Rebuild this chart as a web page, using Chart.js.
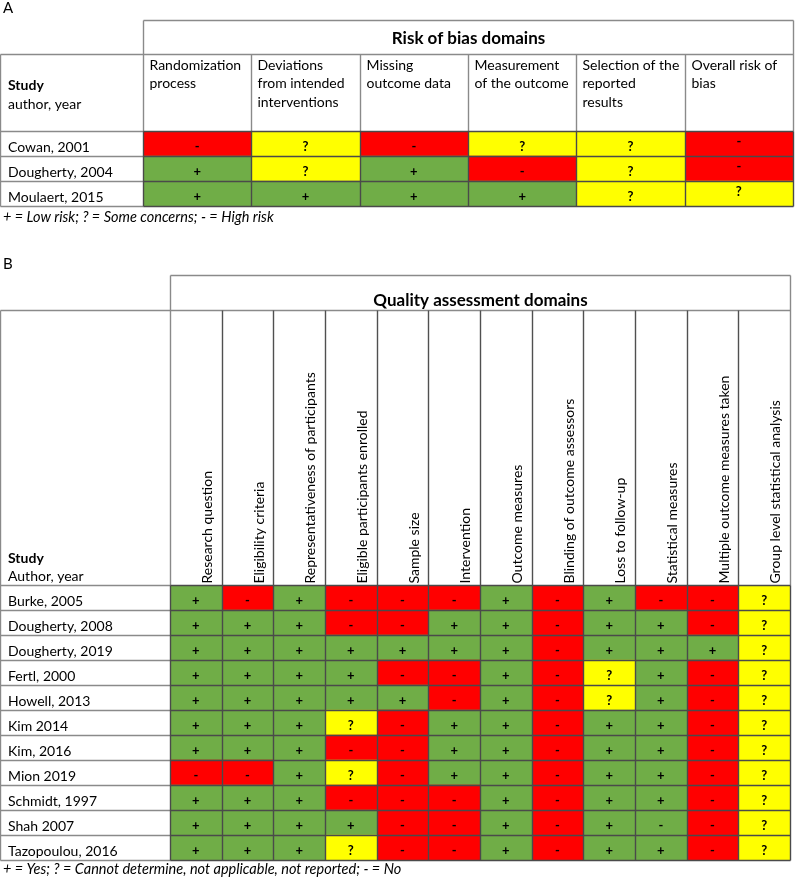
<!DOCTYPE html>
<html><head><meta charset="utf-8">
<script src="https://cdn.jsdelivr.net/npm/chart.js@4.4.1/dist/chart.umd.min.js"></script>
<style>
html,body{margin:0;padding:0;background:#fff;width:796px;height:879px;overflow:hidden}
canvas{position:absolute;left:0;display:block}
</style></head>
<body>
<canvas id="ca" width="796" height="230" style="top:0px"></canvas>
<canvas id="cb" width="796" height="649" style="top:230px"></canvas>
<script>
// ---------- Panel A data ----------
const aStudies = ['Cowan, 2001', 'Dougherty, 2004', 'Moulaert, 2015'];
const aDomains = [
  ['Randomization', 'process'],
  ['Deviations', 'from intended', 'interventions'],
  ['Missing', 'outcome data'],
  ['Measurement', 'of the outcome'],
  ['Selection of the', 'reported', 'results'],
  ['Overall risk of', 'bias']
];
const aSymbols = [
  ['-', '?', '-', '?', '?', '-'],
  ['+', '?', '+', '-', '?', '-'],
  ['+', '+', '+', '+', '?', '?']
];
const aColors = ['RYRYYR', 'GYGRYR', 'GGGGYY'];
const aTitle = 'Risk of bias domains';
const aStudyHeader = ['Study', 'author, year'];
const aNote = '+ = Low risk; ? = Some concerns; - = High risk';

// ---------- Panel B data ----------
const bStudies = ['Burke, 2005', 'Dougherty, 2008', 'Dougherty, 2019', 'Fertl, 2000', 'Howell, 2013',
  'Kim 2014', 'Kim, 2016', 'Mion 2019', 'Schmidt, 1997', 'Shah 2007', 'Tazopoulou, 2016'];
const bDomains = ['Research question', 'Eligibility criteria', 'Representativeness of participants',
  'Eligible participants enrolled', 'Sample size', 'Intervention', 'Outcome measures',
  'Blinding of outcome assessors', 'Loss to follow-up', 'Statistical measures',
  'Multiple outcome measures taken', 'Group level statistical analysis'];
const bSymbols = [
  ['+', '-', '+', '-', '-', '-', '+', '-', '+', '-', '-', '?'],
  ['+', '+', '+', '-', '-', '+', '+', '-', '+', '+', '-', '?'],
  ['+', '+', '+', '+', '+', '+', '+', '-', '+', '+', '+', '?'],
  ['+', '+', '+', '+', '-', '-', '+', '-', '?', '+', '-', '?'],
  ['+', '+', '+', '+', '+', '-', '+', '-', '?', '+', '-', '?'],
  ['+', '+', '+', '?', '-', '+', '+', '-', '+', '+', '-', '?'],
  ['+', '+', '+', '-', '-', '+', '+', '-', '+', '+', '-', '?'],
  ['-', '-', '+', '?', '-', '+', '+', '-', '+', '+', '-', '?'],
  ['+', '+', '+', '-', '-', '-', '+', '-', '+', '+', '-', '?'],
  ['+', '+', '+', '+', '-', '-', '+', '-', '+', '-', '-', '?'],
  ['+', '+', '+', '?', '-', '-', '+', '-', '+', '+', '-', '?']
];
const bColors = [
  'GRGRRRGRGRRY',
  'GGGRRGGRGGRY',
  'GGGGGGGRGGGY',
  'GGGGRRGRYGRY',
  'GGGGGRGRYGRY',
  'GGGYRGGRGGRY',
  'GGGRRGGRGGRY',
  'RRGYRGGRGGRY',
  'GGGRRRGRGGRY',
  'GGGGRRGRGGRY',
  'GGGYRRGRGGRY'
];
const bTitle = 'Quality assessment domains';
const bStudyHeader = ['Study', 'Author, year'];
const bNote = '+ = Yes; ? = Cannot determine, not applicable, not reported; - = No';

const colorMap = { G: '#70AD47', R: '#FF0000', Y: '#FFFF00' };
const FONT = 'Lato, "Open Sans", sans-serif';

function tablePlugin(p) {
  return {
    id: 'tableDecor',
    afterDatasetsDraw(chart) {
      const ctx = chart.ctx;
      const xS = chart.scales.x, yS = chart.scales.y;
      const nC = p.domains.length, nR = p.studies.length;
      const xs = [], ys = [];
      for (let k = 0; k <= nC; k++) xs.push(Math.round(xS.getPixelForValue(k)) + 0.5);
      for (let i = 0; i <= nR; i++) ys.push(Math.round(yS.getPixelForValue(i - 0.5)) + 0.5);
      const yHead = ys[0] - p.headerH;
      const yTitle = yHead - p.titleH;
      ctx.save();
      // cell symbols
      ctx.font = 'bold 13px ' + FONT;
      ctx.textAlign = 'center';
      ctx.textBaseline = 'middle';
      ctx.fillStyle = '#000';
      chart.data.datasets.forEach((ds, j) => {
        chart.getDatasetMeta(j).data.forEach((el, i) => {
          const pr = el.getProps(['x', 'y', 'base'], true);
          const dy = p.symDy + ((p.colSymDy && p.colSymDy[j]) || 0);
          ctx.fillText(p.symbols[i][j], (pr.x + pr.base) / 2, pr.y + dy);
        });
      });
      // lines
      const line = (x1, y1, x2, y2, c) => {
        ctx.strokeStyle = c; ctx.lineWidth = 1.4;
        ctx.beginPath(); ctx.moveTo(x1, y1); ctx.lineTo(x2, y2); ctx.stroke();
      };
      const hc = p.headLine, dc = p.dataLine;
      line(xs[0], yTitle, xs[nC], yTitle, hc);
      line(0.5, yHead, xs[nC], yHead, hc);
      line(0.5, yHead, 0.5, ys[nR], hc);
      line(xs[0], yTitle, xs[0], ys[0], hc);
      line(xs[nC], yTitle, xs[nC], ys[0], hc);
      for (let k = 1; k < nC; k++) line(xs[k], yHead, xs[k], ys[0], p.colHeadLine);
      for (let i = 0; i <= nR; i++) {
        line(0.5, ys[i], xs[0], ys[i], hc);
        line(xs[0], ys[i], xs[nC], ys[i], dc);
      }
      for (let k = 0; k <= nC; k++) line(xs[k], ys[0], xs[k], ys[nR], dc);

      // texts
      ctx.fillStyle = '#000';
      ctx.textBaseline = 'alphabetic';
      ctx.textAlign = 'left';
      ctx.font = '15px ' + FONT;
      ctx.fillText(p.panel, 3, p.panelY);
      ctx.font = 'bold 17px ' + FONT;
      ctx.textAlign = 'center';
      ctx.fillText(p.title, (xs[0] + xs[nC]) / 2, yTitle + p.titleBase);
      ctx.textAlign = 'left';
      ctx.font = 'bold 14px ' + FONT;
      ctx.fillText(p.studyHeader[0], 8, ys[0] - p.studyY[0]);
      ctx.font = '14px ' + FONT;
      ctx.fillText(p.studyHeader[1], 8, ys[0] - p.studyY[1]);
      // column headers
      if (p.rotated) {
        ctx.font = '14px ' + FONT;
        ctx.textBaseline = 'middle';
        p.domains.forEach((d, k) => {
          ctx.save();
          ctx.translate((xs[k] + xs[k + 1]) / 2 + p.rotDx, ys[0] - 2);
          ctx.rotate(-Math.PI / 2);
          ctx.fillText(d, 0, 0);
          ctx.restore();
        });
      } else {
        ctx.font = '14px ' + FONT;
        p.domains.forEach((d, k) => {
          d.forEach((ln, m) => ctx.fillText(ln, xs[k] + 6, yHead + p.headBase + m * 18.3));
        });
      }
      // footnote
      ctx.textBaseline = 'alphabetic';
      ctx.font = 'italic 14.5px ' + FONT;
      ctx.fillText(p.note, 3, ys[nR] + p.noteBase);
      ctx.restore();
    }
  };
}

function makeChart(id, p) {
  const nC = p.domains.length;
  const datasets = p.domains.map((d, j) => ({
    label: Array.isArray(d) ? d.join(' ') : d,
    data: p.studies.map(() => 1),
    backgroundColor: p.colors.map(row => colorMap[row[j]]),
    borderWidth: 0,
    barPercentage: 1,
    categoryPercentage: 1
  }));
  return new Chart(document.getElementById(id), {
    type: 'bar',
    data: { labels: p.studies, datasets },
    options: {
      indexAxis: 'y',
      responsive: false,
      animation: false,
      devicePixelRatio: 1,
      layout: { padding: p.pad },
      plugins: { legend: { display: false }, tooltip: { enabled: false }, title: { display: false } },
      scales: {
        x: { type: 'linear', stacked: true, min: 0, max: nC, display: false },
        y: {
          type: 'category', stacked: true, position: 'left',
          grid: { display: false, drawTicks: false },
          border: { display: false },
          ticks: { crossAlign: 'far', padding: 0, labelOffset: 4, color: '#000', font: { family: FONT, size: 14 } },
          afterFit(s) { s.width = p.labelW; }
        }
      }
    },
    plugins: [tablePlugin(p)]
  });
}

makeChart('ca', {
  studies: aStudies, domains: aDomains, symbols: aSymbols, colors: aColors,
  title: aTitle, studyHeader: aStudyHeader, note: aNote, panel: 'A',
  pad: { left: 8, right: 3, top: 131, bottom: 24 }, labelW: 135,
  headerH: 77, titleH: 34, titleBase: 23, headBase: 15.5, studyY: [42, 23],
  panelY: 13, noteBase: 15, symDy: 3.5, colSymDy: [0, 0, 0, 0, 0, -5],
  headLine: '#8a8a8a', colHeadLine: '#8a8a8a', dataLine: '#4a4a4a', rotated: false
});

makeChart('cb', {
  studies: bStudies, domains: bDomains, symbols: bSymbols, colors: bColors,
  title: bTitle, studyHeader: bStudyHeader, note: bNote, panel: 'B',
  pad: { left: 8, right: 6, top: 355, bottom: 19 }, labelW: 162,
  headerH: 275, titleH: 35, titleBase: 30, studyY: [23, 5], rotDx: 11,
  panelY: 39, noteBase: 13, symDy: 3.5,
  headLine: '#8a8a8a', colHeadLine: '#505050', dataLine: '#4a4a4a', rotated: true
});
</script>
</body></html>
